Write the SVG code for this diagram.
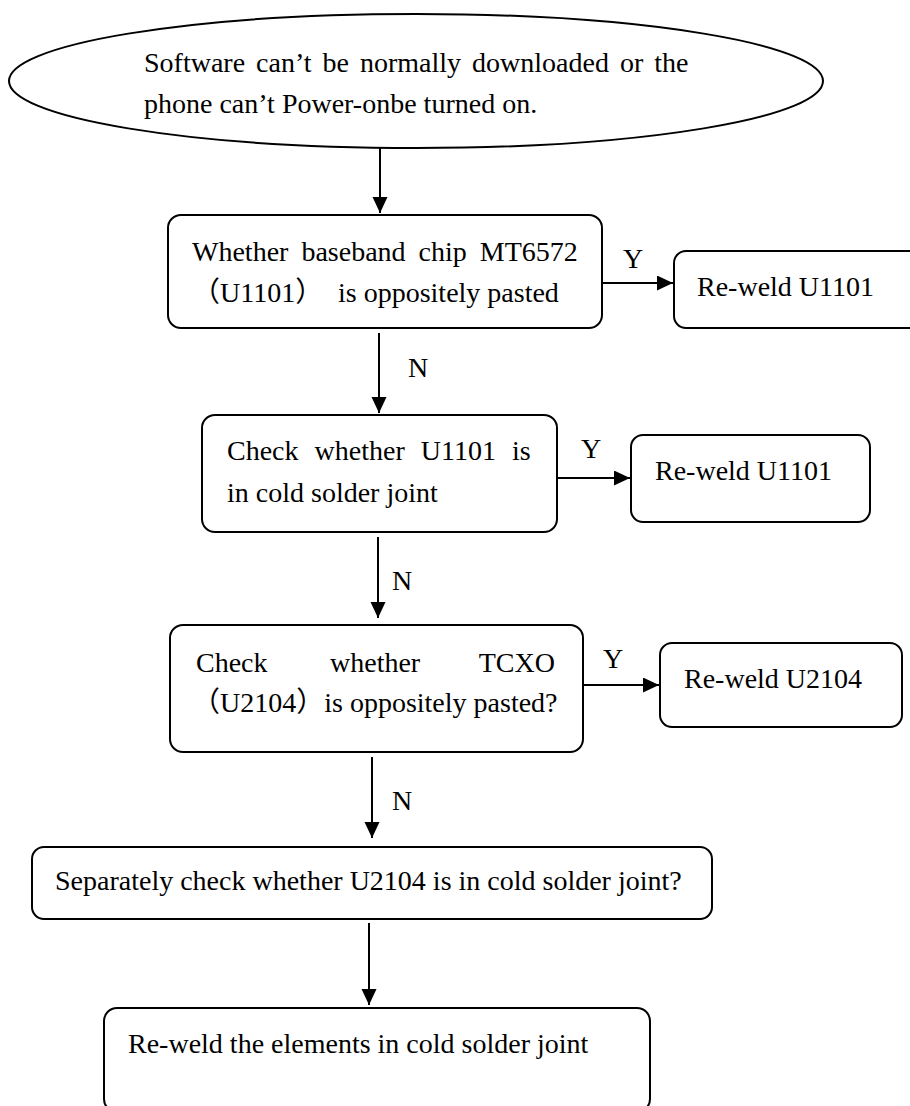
<svg xmlns="http://www.w3.org/2000/svg" width="910" height="1106" viewBox="0 0 910 1106">
  <style>
    .shape { fill: #ffffff; stroke: #000000; stroke-width: 2; }
    .lbl { font-family: "Liberation Serif", "Noto Sans CJK SC", serif; font-size: 28px; fill: #000000; }
    .wire { fill: none; stroke: #000000; stroke-width: 2; }
  </style>
  <defs>
    <marker id="head" markerUnits="userSpaceOnUse" markerWidth="18" markerHeight="16" refX="16" refY="7.5" orient="auto">
      <path d="M0,0 L16,7.5 L0,15 Z" fill="#000000"/>
    </marker>
  </defs>
  <rect width="910" height="1106" fill="#ffffff"/>

  <!-- start: fault symptom -->
  <g id="start">
    <ellipse class="shape" cx="416" cy="81" rx="407" ry="67"/>
    <text class="lbl" x="144" y="72" word-spacing="4">Software can’t be normally downloaded or the</text>
    <text class="lbl" x="144" y="113">phone can’t Power-onbe turned on.</text>
  </g>

  <!-- decision 1 -->
  <g id="check-mt6572">
    <rect class="shape" x="168" y="215" width="434" height="113" rx="13"/>
    <text class="lbl" x="192" y="261" word-spacing="6">Whether baseband chip MT6572</text>
    <text class="lbl" x="192" y="302">（U1101）</text>
    <text class="lbl" x="338" y="302">is oppositely pasted</text>
  </g>
  <g id="reweld-1">
    <rect class="shape" x="674" y="251" width="250" height="77" rx="12"/>
    <text class="lbl" x="697" y="296">Re-weld U1101</text>
  </g>

  <!-- decision 2 -->
  <g id="check-u1101">
    <rect class="shape" x="202" y="415" width="355" height="117" rx="13"/>
    <text class="lbl" x="227" y="460" word-spacing="9">Check whether U1101 is</text>
    <text class="lbl" x="227" y="502">in cold solder joint</text>
  </g>
  <g id="reweld-2">
    <rect class="shape" x="631" y="435" width="239" height="87" rx="12"/>
    <text class="lbl" x="655" y="480">Re-weld U1101</text>
  </g>

  <!-- decision 3 -->
  <g id="check-tcxo">
    <rect class="shape" x="170" y="625" width="413" height="127" rx="13"/>
    <text class="lbl" x="196" y="672">Check</text>
    <text class="lbl" x="330" y="672">whether</text>
    <text class="lbl" x="555" y="672" text-anchor="end">TCXO</text>
    <text class="lbl" x="192" y="712">（U2104）is oppositely pasted?</text>
  </g>
  <g id="reweld-3">
    <rect class="shape" x="660" y="643" width="242" height="84" rx="12"/>
    <text class="lbl" x="684" y="688">Re-weld U2104</text>
  </g>

  <!-- decision 4 -->
  <g id="check-u2104">
    <rect class="shape" x="32" y="847" width="680" height="72" rx="12"/>
    <text class="lbl" x="55" y="890">Separately check whether U2104 is in cold solder joint?</text>
  </g>

  <!-- end -->
  <g id="reweld-elements">
    <rect class="shape" x="104" y="1008" width="546" height="104" rx="13"/>
    <text class="lbl" x="128" y="1053">Re-weld the elements in cold solder joint</text>
  </g>

  <!-- connectors -->
  <g id="connectors">
    <line class="wire" x1="380" y1="148" x2="380" y2="213" marker-end="url(#head)"/>
    <line class="wire" x1="602" y1="283" x2="673" y2="283" marker-end="url(#head)"/>
    <line class="wire" x1="379" y1="333" x2="379" y2="413" marker-end="url(#head)"/>
    <line class="wire" x1="558" y1="478" x2="630" y2="478" marker-end="url(#head)"/>
    <line class="wire" x1="378" y1="537" x2="378" y2="618" marker-end="url(#head)"/>
    <line class="wire" x1="583" y1="685" x2="659" y2="685" marker-end="url(#head)"/>
    <line class="wire" x1="372" y1="757" x2="372" y2="838" marker-end="url(#head)"/>
    <line class="wire" x1="369" y1="923" x2="369" y2="1005" marker-end="url(#head)"/>
    <text class="lbl" x="623" y="268">Y</text>
    <text class="lbl" x="408" y="377">N</text>
    <text class="lbl" x="581" y="458">Y</text>
    <text class="lbl" x="392" y="590">N</text>
    <text class="lbl" x="603" y="668">Y</text>
    <text class="lbl" x="392" y="810">N</text>
  </g>
</svg>
